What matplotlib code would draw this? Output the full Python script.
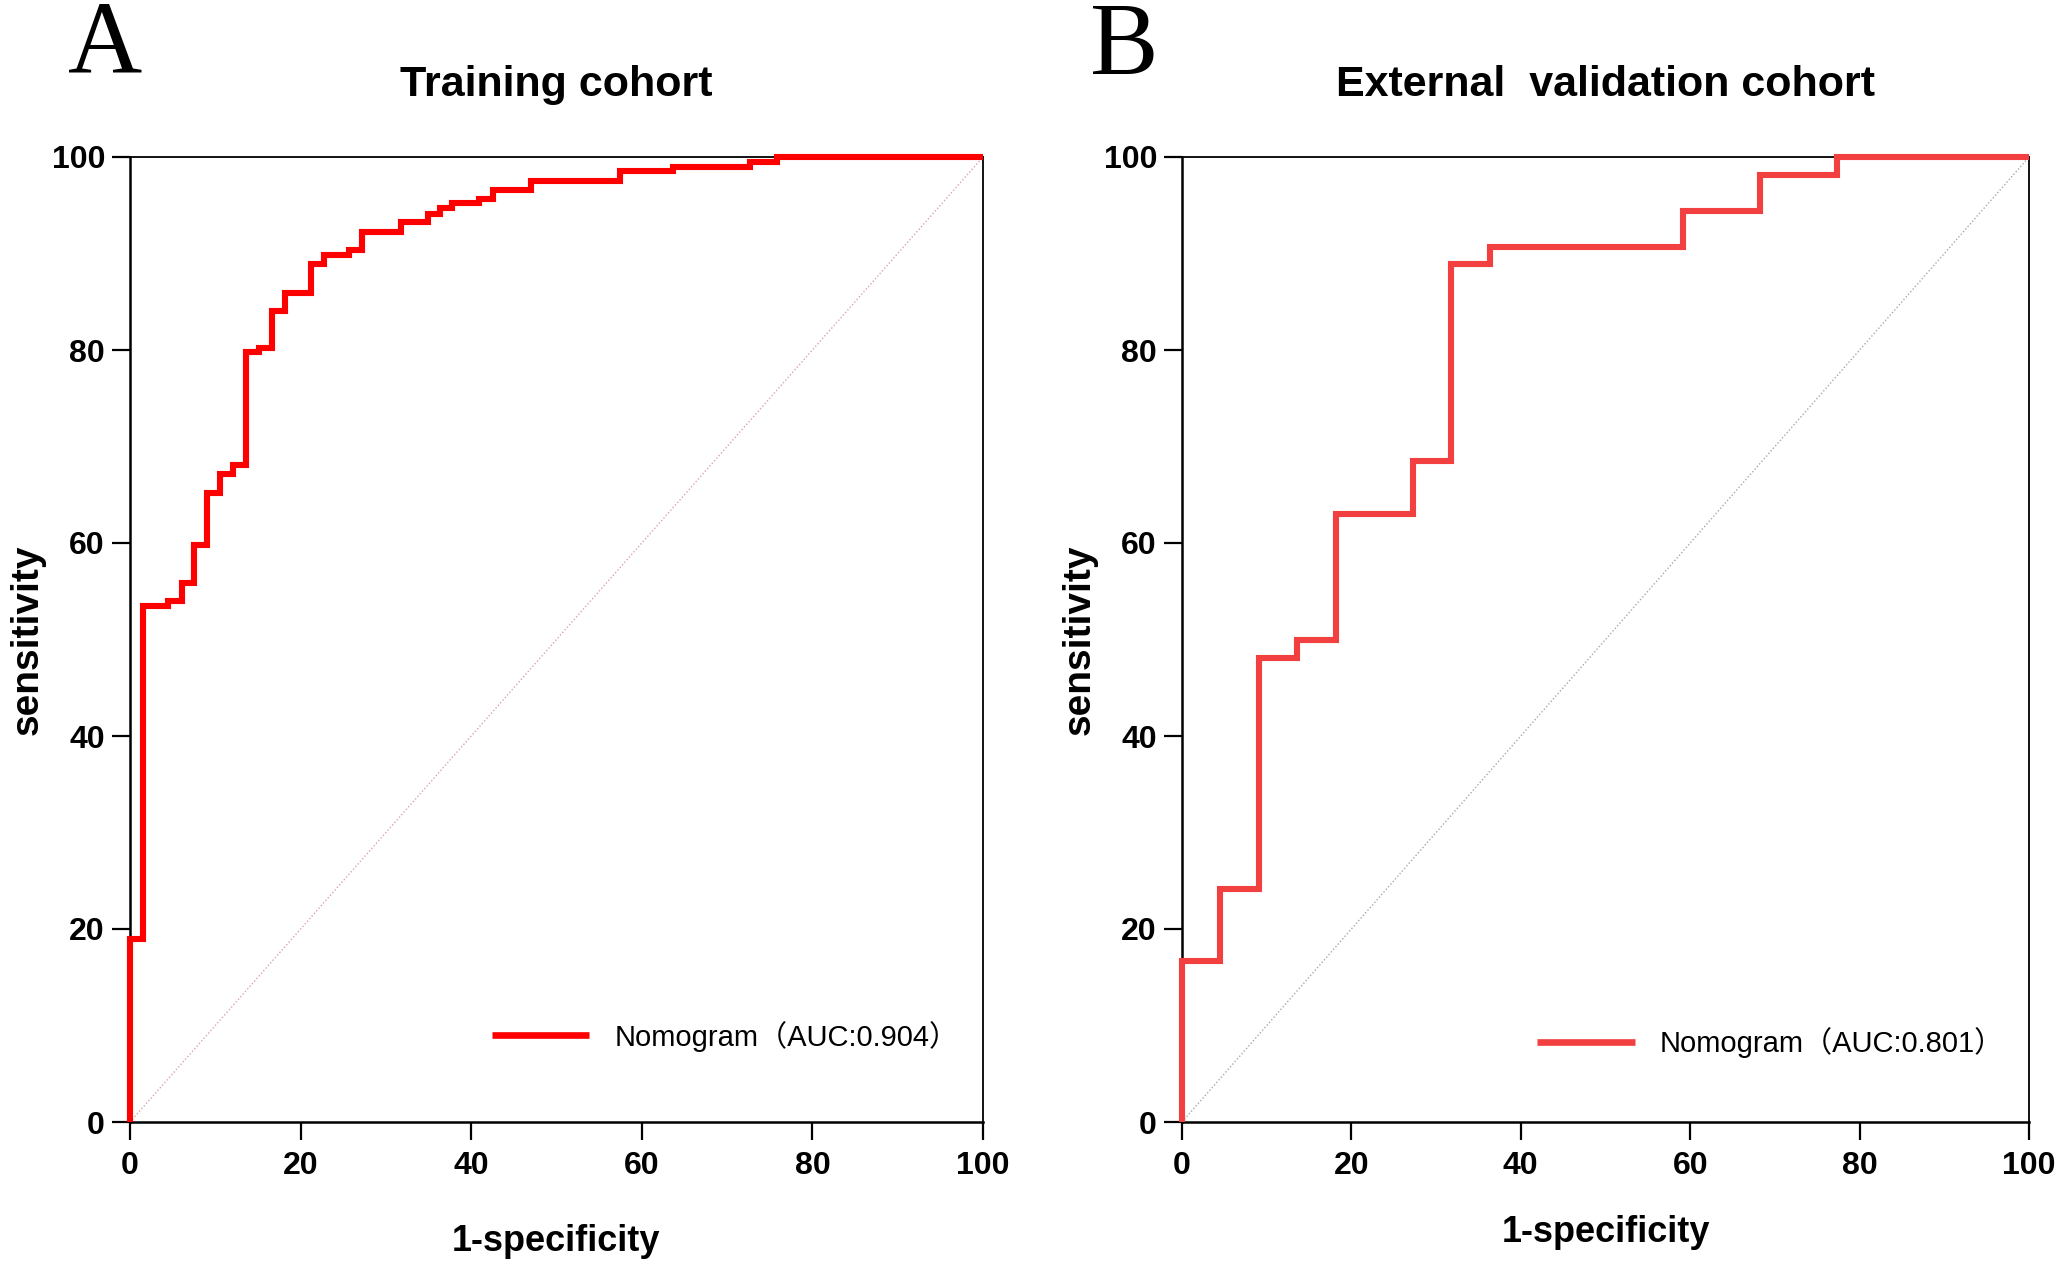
import matplotlib
matplotlib.use("Agg")
import matplotlib.pyplot as plt
from matplotlib import font_manager as fm

# ---------------- data ----------------
# ROC step corners: x = 1-specificity (%) where the rise happens, y = sensitivity (%) after the rise
train_fpr = [0, 0, 1.5, 4.5, 6.1, 7.5, 9.0, 10.5, 12.1, 13.6, 15.1, 16.6, 18.2, 21.2, 22.7,
             25.7, 27.2, 31.8, 34.9, 36.3, 37.8, 40.9, 42.5, 47.0, 57.5, 63.6, 72.7, 75.8, 100]
train_tpr = [0, 19.0, 53.5, 54.0, 55.9, 59.8, 65.2, 67.1, 68.1, 79.8, 80.2, 84.0, 85.9, 88.9, 89.8,
             90.4, 92.2, 93.3, 94.1, 94.7, 95.2, 95.6, 96.6, 97.5, 98.5, 99.0, 99.5, 100, 100]

valid_fpr = [0, 0, 4.5, 9.1, 13.6, 18.2, 27.3, 31.8, 36.4, 59.1, 68.2, 77.3, 100]
valid_tpr = [0, 16.7, 24.1, 48.1, 50.0, 63.0, 68.5, 88.9, 90.7, 94.4, 98.1, 100, 100]

panel_letters = ["A", "B"]
titles = ["Training cohort", "External  validation cohort"]
legend_labels = ["Nomogram\uff08AUC:0.904\uff09", "Nomogram\uff08AUC:0.801\uff09"]
xlabel = "1-specificity"
ylabel = "sensitivity"
ticks = [0, 20, 40, 60, 80, 100]
tick_labels = ["0", "20", "40", "60", "80", "100"]

# ---------------- styling ----------------
names = {f.name for f in fm.fontManager.ttflist}
SANS = "Liberation Sans" if "Liberation Sans" in names else "DejaVu Sans"
NARROW = "Liberation Sans Narrow" if "Liberation Sans Narrow" in names else SANS
SERIF = "Liberation Serif" if "Liberation Serif" in names else "DejaVu Serif"
leg_size = 23 if NARROW != SANS else 21

plt.rcParams["font.family"] = [SANS, "Noto Sans CJK SC", "DejaVu Sans"]

W, H = 2057, 1271
fig = plt.figure(figsize=(W / 100, H / 100), dpi=100)

line_colors = ["#ff0000", "#f23f3f"]
diag_colors = ["#dca3ab", "#a9a9a9"]
axes_px = [(130, 983), (1182, 2029)]
top_px, bot_px = 157, 1122
legend_pos = [(0.424, 0.089), (0.419, 0.082)]
letter_px = [(68, 73), (1090, 74)]
xlabel_pads = [31, 24]

datasets = [(train_fpr, train_tpr), (valid_fpr, valid_tpr)]

for i in range(2):
    l, r = axes_px[i]
    ax = fig.add_axes([l / W, 1 - bot_px / H, (r - l) / W, (bot_px - top_px) / H])
    fpr, tpr = datasets[i]
    ax.plot([0, 100], [0, 100], linestyle=(0, (1, 1.5)), color=diag_colors[i], linewidth=1.0, zorder=1)
    ax.plot(fpr, tpr, drawstyle="steps-post", color=line_colors[i], linewidth=4.4,
            solid_joinstyle="miter", solid_capstyle="butt", clip_on=False, zorder=3,
            label=legend_labels[i])
    ax.set_xlim(0, 100)
    ax.set_ylim(0, 100)
    ax.set_xticks(ticks)
    ax.set_yticks(ticks)
    ax.set_xticklabels(tick_labels)
    ax.set_yticklabels(tick_labels)
    for lab in ax.get_xticklabels() + ax.get_yticklabels():
        lab.set_fontweight("bold")
        lab.set_fontsize(23)
    ax.tick_params(axis="both", direction="out", length=13, width=1.6, color="black")
    ax.tick_params(axis="x", pad=8)
    ax.tick_params(axis="y", pad=5)
    for side in ["left", "bottom"]:
        ax.spines[side].set_linewidth(1.8)
    for side in ["top", "right"]:
        ax.spines[side].set_linewidth(1.3)
    ax.set_xlabel(xlabel, fontsize=26, fontweight="bold", labelpad=xlabel_pads[i])
    ax.set_ylabel(ylabel, fontsize=28, fontweight="bold", labelpad=4)
    ax.set_title(titles[i], fontsize=31, fontweight="bold", pad=44)
    leg = ax.legend(loc="center left", bbox_to_anchor=legend_pos[i], frameon=False,
                    handlelength=3.35, handletextpad=0.85, borderpad=0, borderaxespad=0,
                    prop={"family": [NARROW, "Noto Sans CJK SC", "DejaVu Sans"], "size": leg_size})
    for h in leg.get_lines():
        h.set_linewidth(4.8)
    lx, ly = letter_px[i]
    fig.text(lx / W, 1 - ly / H, panel_letters[i], fontsize=74, family=SERIF,
             ha="left", va="baseline")

fig.savefig("out.png", dpi=100)
